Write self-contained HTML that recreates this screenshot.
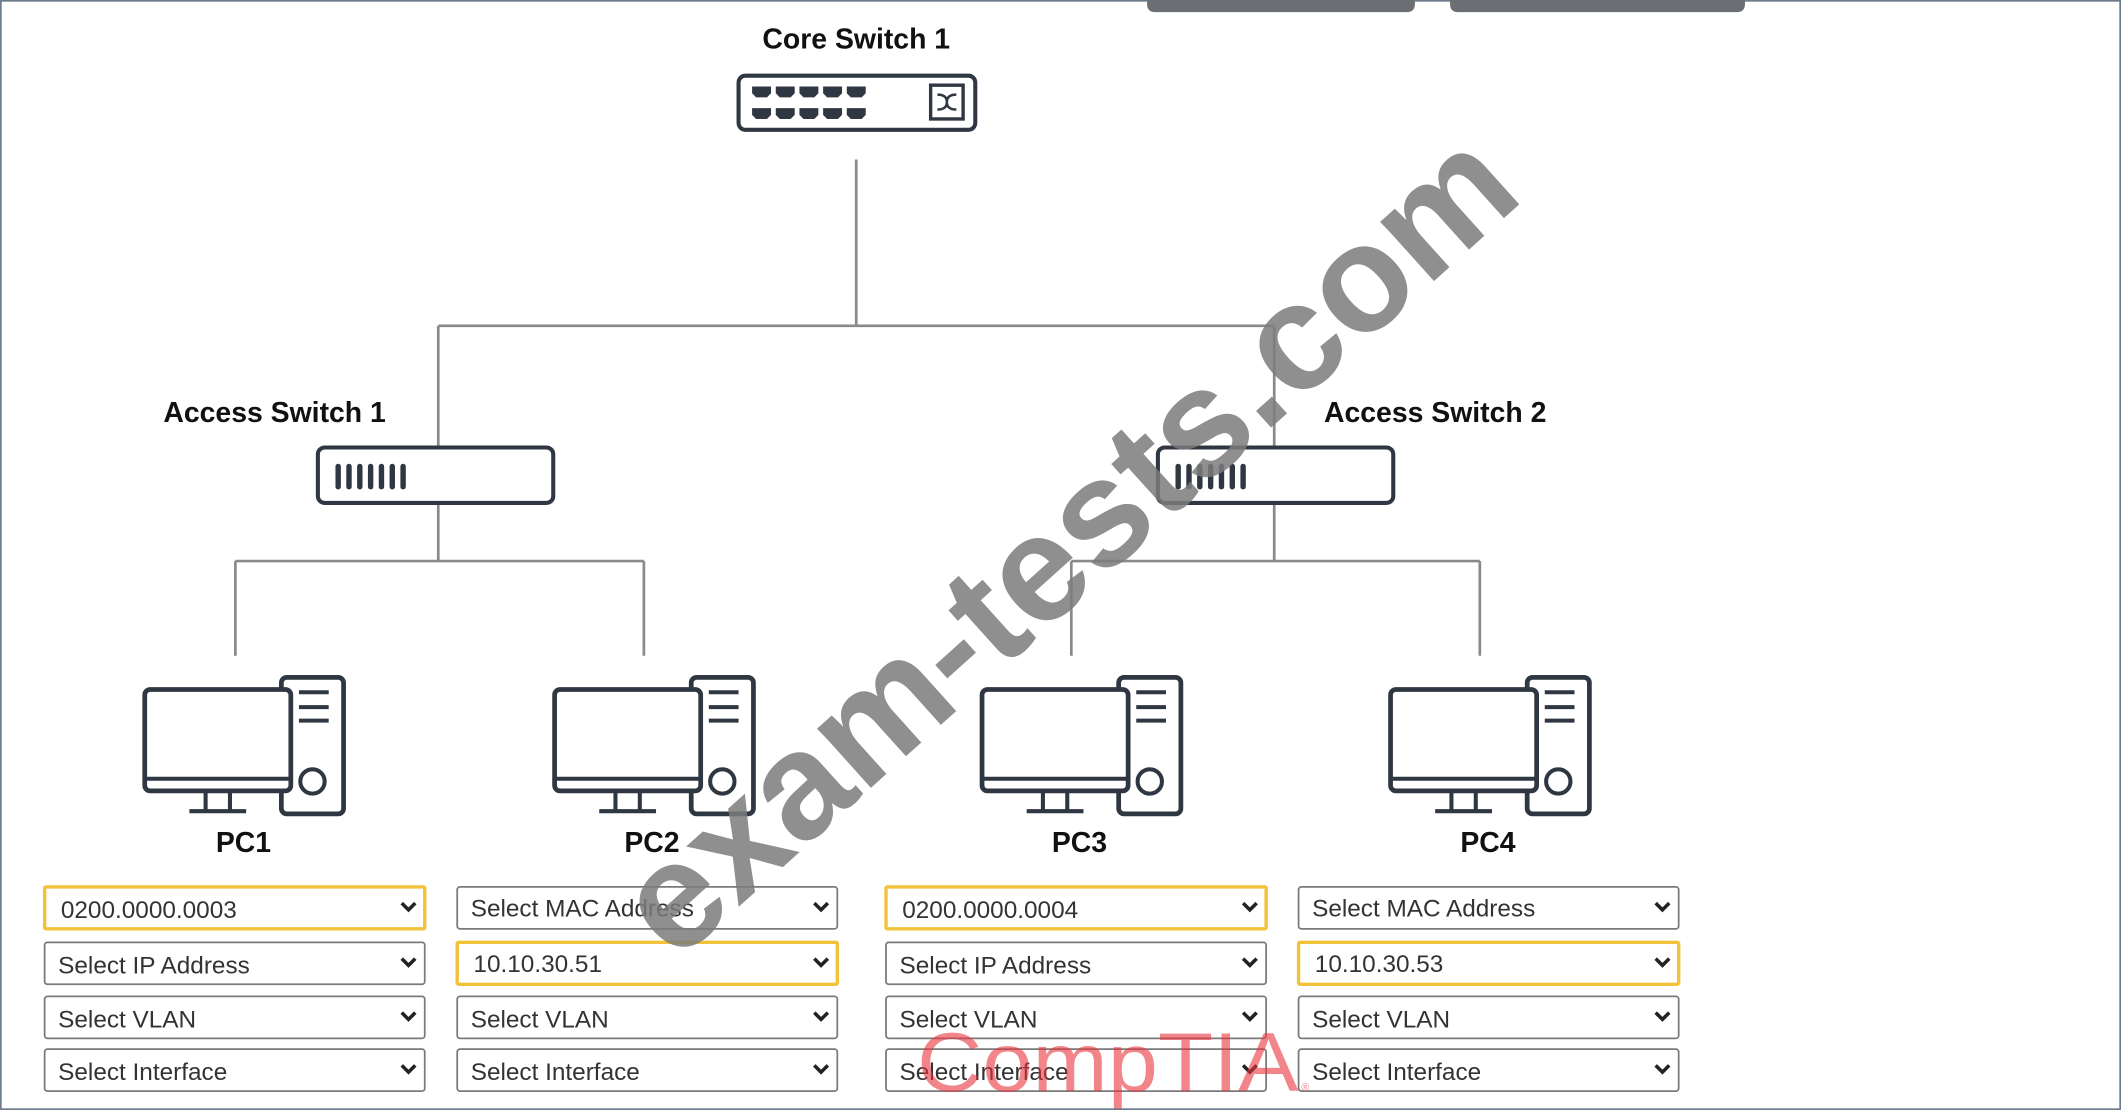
<!DOCTYPE html>
<html><head><meta charset="utf-8"><style>
html,body{margin:0;padding:0;background:#fff;}
svg{display:block;}
text{font-family:"Liberation Sans",sans-serif;}
</style></head><body>
<svg width="2121" height="1110" viewBox="0 0 1568 821" preserveAspectRatio="none" xmlns="http://www.w3.org/2000/svg">
<defs>
<g id="pc">
  <rect x="101" y="0" width="46" height="101" rx="4" fill="#fff" stroke="#2f3742" stroke-width="3.5"/>
  <line x1="114" y1="11" x2="136" y2="11" stroke="#2f3742" stroke-width="3"/>
  <line x1="114" y1="22" x2="136" y2="22" stroke="#2f3742" stroke-width="3"/>
  <line x1="114" y1="32" x2="136" y2="32" stroke="#2f3742" stroke-width="3"/>
  <circle cx="124" cy="77" r="9" fill="none" stroke="#2f3742" stroke-width="3"/>
  <rect x="0" y="9" width="108" height="75" rx="4" fill="#fff" stroke="#2f3742" stroke-width="3.5"/>
  <line x1="0" y1="75" x2="108" y2="75" stroke="#2f3742" stroke-width="3"/>
  <line x1="45" y1="84" x2="45" y2="98" stroke="#2f3742" stroke-width="3"/>
  <line x1="63" y1="84" x2="63" y2="98" stroke="#2f3742" stroke-width="3"/>
  <line x1="33" y1="99" x2="75" y2="99" stroke="#2f3742" stroke-width="3"/>
</g>
<g id="dd">
  <rect x="0" y="0" width="281" height="31" rx="2" fill="#fff" stroke="#7a7a7a" stroke-width="1.3"/>
  <path d="M264 12 L269 17 L274 12" fill="none" stroke="#222" stroke-width="2.6"/>
</g>
<g id="ddh">
  <rect x="0" y="0" width="281" height="31" rx="1" fill="#fff" stroke="#f2c23a" stroke-width="2.5"/>
  <path d="M264 12 L269 17 L274 12" fill="none" stroke="#222" stroke-width="2.6"/>
</g>
<g id="asw">
  <rect x="0" y="0" width="174" height="41" rx="5" fill="#fff" stroke="#2f3742" stroke-width="3"/>
  <rect x="13" y="12" width="4" height="19" rx="2" fill="#2f3742"/>
  <rect x="21" y="12" width="4" height="19" rx="2" fill="#2f3742"/>
  <rect x="29" y="12" width="4" height="19" rx="2" fill="#2f3742"/>
  <rect x="37" y="12" width="4" height="19" rx="2" fill="#2f3742"/>
  <rect x="45" y="12" width="4" height="19" rx="2" fill="#2f3742"/>
  <rect x="53" y="12" width="4" height="19" rx="2" fill="#2f3742"/>
  <rect x="61" y="12" width="4" height="19" rx="2" fill="#2f3742"/>
</g>
</defs>

<rect x="0.5" y="0.5" width="1567" height="820" fill="#fff" stroke="#6d7d8d" stroke-width="1.5"/>
<!-- top tabs -->
<path d="M848 0 L1046 0 L1046 3 Q1046 9 1040 9 L854 9 Q848 9 848 3 Z" fill="#6b6e72"/>
<path d="M1072 0 L1290 0 L1290 3 Q1290 9 1284 9 L1078 9 Q1072 9 1072 3 Z" fill="#6b6e72"/>

<!-- connectors -->
<g stroke="#8a8a8a" stroke-width="2" fill="none">
  <line x1="633" y1="118" x2="633" y2="241"/>
  <line x1="324" y1="241" x2="942" y2="241"/>
  <line x1="324" y1="241" x2="324" y2="331"/>
  <line x1="942" y1="241" x2="942" y2="331"/>
  <line x1="324" y1="372" x2="324" y2="415"/>
  <line x1="174" y1="415" x2="476" y2="415"/>
  <line x1="174" y1="415" x2="174" y2="485"/>
  <line x1="476" y1="415" x2="476" y2="485"/>
  <line x1="942" y1="372" x2="942" y2="415"/>
  <line x1="792" y1="415" x2="1094" y2="415"/>
  <line x1="792" y1="415" x2="792" y2="485"/>
  <line x1="1094" y1="415" x2="1094" y2="485"/>
</g>

<!-- core switch -->
<text x="633" y="36" font-size="21" font-weight="bold" text-anchor="middle" fill="#111">Core Switch 1</text>
<rect x="546" y="56" width="175" height="40" rx="5" fill="#fff" stroke="#2f3742" stroke-width="3"/>
<g fill="#2f3742">
  <path d="M556 64 h14 v5 l-3 3 h-8 l-3 -3z"/><path d="M573.5 64 h14 v5 l-3 3 h-8 l-3 -3z"/><path d="M591 64 h14 v5 l-3 3 h-8 l-3 -3z"/><path d="M608.5 64 h14 v5 l-3 3 h-8 l-3 -3z"/><path d="M626 64 h14 v5 l-3 3 h-8 l-3 -3z"/>
  <path d="M556 80 h14 v5 l-3 3 h-8 l-3 -3z"/><path d="M573.5 80 h14 v5 l-3 3 h-8 l-3 -3z"/><path d="M591 80 h14 v5 l-3 3 h-8 l-3 -3z"/><path d="M608.5 80 h14 v5 l-3 3 h-8 l-3 -3z"/><path d="M626 80 h14 v5 l-3 3 h-8 l-3 -3z"/>
</g>
<rect x="688" y="63" width="24" height="25" fill="#fff" stroke="#2f3742" stroke-width="2.5"/>
<path d="M693 70 Q700 70 700 75.5 Q700 81 707 81 M693 81 Q700 81 700 75.5 Q700 70 707 70" fill="none" stroke="#2f3742" stroke-width="1.8"/>

<!-- access switches -->
<text x="203" y="312" font-size="21" font-weight="bold" text-anchor="middle" fill="#111">Access Switch 1</text>
<use href="#asw" x="235" y="331"/>
<text x="1061" y="312" font-size="21" font-weight="bold" text-anchor="middle" fill="#111">Access Switch 2</text>
<use href="#asw" x="856" y="331"/>

<!-- PCs -->
<use href="#pc" x="107" y="501"/>
<use href="#pc" x="410" y="501"/>
<use href="#pc" x="726" y="501"/>
<use href="#pc" x="1028" y="501"/>
<g font-size="21" font-weight="bold" text-anchor="middle" fill="#111">
<text x="180" y="630">PC1</text>
<text x="482" y="630">PC2</text>
<text x="798" y="630">PC3</text>
<text x="1100" y="630">PC4</text>
</g>

<!-- dropdowns -->
<use href="#ddh" x="33" y="656"/><use href="#dd" x="33" y="697"/><use href="#dd" x="33" y="737"/><use href="#dd" x="33" y="776"/>
<use href="#dd" x="338" y="656"/><use href="#ddh" x="338" y="697"/><use href="#dd" x="338" y="737"/><use href="#dd" x="338" y="776"/>
<use href="#ddh" x="655" y="656"/><use href="#dd" x="655" y="697"/><use href="#dd" x="655" y="737"/><use href="#dd" x="655" y="776"/>
<use href="#dd" x="960" y="656"/><use href="#ddh" x="960" y="697"/><use href="#dd" x="960" y="737"/><use href="#dd" x="960" y="776"/>
<g font-size="18" fill="#333">
<text x="45" y="679">0200.0000.0003</text>
<text x="43" y="720">Select IP Address</text>
<text x="43" y="760">Select VLAN</text>
<text x="43" y="799">Select Interface</text>
<text x="348" y="678">Select MAC Address</text>
<text x="350" y="719">10.10.30.51</text>
<text x="348" y="760">Select VLAN</text>
<text x="348" y="799">Select Interface</text>
<text x="667" y="679">0200.0000.0004</text>
<text x="665" y="720">Select IP Address</text>
<text x="665" y="760">Select VLAN</text>
<text x="665" y="799">Select Interface</text>
<text x="970" y="678">Select MAC Address</text>
<text x="972" y="719">10.10.30.53</text>
<text x="970" y="760">Select VLAN</text>
<text x="970" y="799">Select Interface</text>
</g>

<!-- watermarks -->
<text x="787" y="440" font-size="112" font-weight="bold" text-anchor="middle" fill="#7b7b7b" fill-opacity="0.85" transform="rotate(-42 787 400)">exam-tests.com</text>
<text x="678" y="807" font-size="62" fill="#e8343c" fill-opacity="0.6" textLength="282" lengthAdjust="spacingAndGlyphs">CompTIA</text>
<text x="962" y="807" font-size="8" fill="#e8343c" fill-opacity="0.6">®</text>
</svg>
</body></html>
